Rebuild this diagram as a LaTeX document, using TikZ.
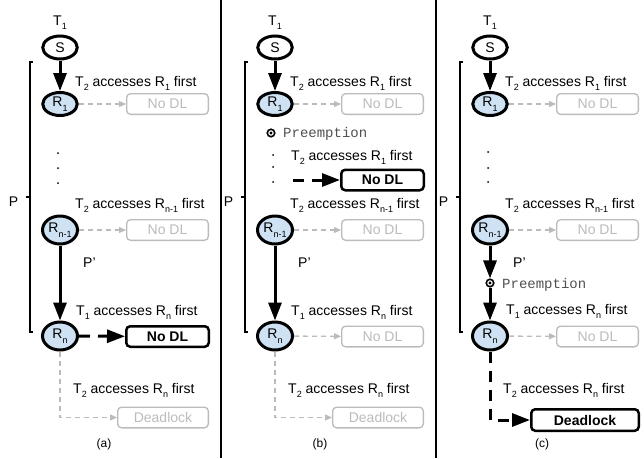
\documentclass[tikz,border=0pt]{standalone}
\usepackage{fontspec}
\setmainfont{Liberation Sans}
\newfontfamily\monofont{Liberation Mono}
\usetikzlibrary{shapes.geometric,arrows.meta}
\definecolor{nodeblue}{HTML}{CFE2F3}
\definecolor{ghost}{HTML}{BBBBBB}
\definecolor{pretext}{HTML}{505050}
\newcommand{\lsub}[1]{\raisebox{-0.33em}{\fontsize{9}{9}\selectfont #1}}
\begin{document}
\begin{tikzpicture}[x=1pt,y=-1pt,font=\fontsize{14}{16}\selectfont,
  lbl/.style={inner sep=0pt},
  res/.style={ellipse,draw,line width=3pt,inner sep=0pt,minimum width=34.5pt,minimum height=23pt},
  resbig/.style={res,minimum width=35pt,minimum height=28pt},
  ghostbox/.style={rectangle,rounded corners=4pt,draw=ghost,line width=1.3pt,text=ghost,
    minimum width=81.7pt,minimum height=20.7pt,inner sep=0pt},
  boldbox/.style={rectangle,rounded corners=4pt,draw,line width=2.5pt,
    font=\fontsize{14}{16}\selectfont\bfseries,minimum width=82.5pt,minimum height=20.5pt,inner sep=0pt},
  solidarr/.style={line width=3pt,-{Triangle[length=18pt,width=13pt]}},
  dasharr/.style={solidarr,dash pattern=on 11pt off 8pt},
  ghostarr/.style={draw=ghost,line width=1.3pt,dash pattern=on 5pt off 4pt,-{Triangle[length=7pt,width=6pt]}},
  bracket/.style={line width=1.4pt},
  divider/.style={line width=2pt},
  premark/.style={circle,draw,line width=1.6pt,minimum size=7.5pt,inner sep=0pt,fill=white},
  pretxt/.style={inner sep=0pt,text=pretext,font=\monofont\fontsize{14}{16}\selectfont},
  dot/.style={circle,fill,inner sep=0pt,minimum size=2pt},
  caption/.style={inner sep=0pt,font=\fontsize{12}{14}\selectfont}
]
\useasboundingbox (0,0) rectangle (644,458);

% dividers
\draw[divider] (220.5,0) -- (220.5,458);
\draw[divider] (435.5,0) -- (435.5,458);

% ================= panel (a) =================
\begin{scope}[name prefix=a-]
\node[lbl,anchor=base] (t1) at (60,25) {T\lsub{1}};
\node[res,fill=white] (s) at (60,47.5) {S};
\node[res,fill=nodeblue] (r1) at (60,104) {R\lsub{1}};
\node[resbig,fill=nodeblue] (rm) at (60,230) {R\lsub{n-1}};
\node[resbig,fill=nodeblue] (rn) at (60,336) {R\lsub{n}};
\node[ghostbox] (b1) at (167.5,104) {No DL};
\node[ghostbox] (bm) at (167.5,230) {No DL};
\node[boldbox] (bn) at (167.5,336.5) {No DL};
\node[ghostbox,minimum width=90.7pt] (dl) at (163,417.5) {Deadlock};
\node[lbl,anchor=base west] (l1) at (75,86) {T\lsub{2} accesses R\lsub{1} first};
\node[lbl,anchor=base west] (lm) at (75,208) {T\lsub{2} accesses R\lsub{n-1} first};
\node[lbl,anchor=base west] (ln) at (76,315) {T\lsub{1} accesses R\lsub{n} first};
\node[lbl,anchor=base west] (ld) at (73,393) {T\lsub{2} accesses R\lsub{n} first};
\node[lbl,anchor=base west] (pp) at (83,267) {P'};
\node[lbl] (p) at (13.5,202) {P};
\node[dot] (d1) at (58,153) {};
\node[dot] (d2) at (58,168) {};
\node[dot] (d3) at (58,183) {};
\draw[bracket] (33,62) -- (30,62) -- (30,332) -- (33,332);
\draw[bracket] (30,197) -- (26,197);
\draw[solidarr] (s) -- (r1);
\draw[solidarr] (rm) -- (rn);
\draw[ghostarr] (r1) -- (b1);
\draw[ghostarr] (rm) -- (bm);
\draw[dasharr] (rn) -- (bn);
\draw[ghostarr] (rn.south) |- (dl.west);
\node[caption] (cap) at (104,444) {(a)};
\end{scope}

% ================= panel (b) =================
\begin{scope}[xshift=215pt,name prefix=b-]
\node[lbl,anchor=base] (t1) at (60,25) {T\lsub{1}};
\node[res,fill=white] (s) at (60,47.5) {S};
\node[res,fill=nodeblue] (r1) at (60,104) {R\lsub{1}};
\node[resbig,fill=nodeblue] (rm) at (60,230) {R\lsub{n-1}};
\node[resbig,fill=nodeblue] (rn) at (60,336) {R\lsub{n}};
\node[ghostbox] (b1) at (167.5,104) {No DL};
\node[boldbox] (bp) at (167.5,180) {No DL};
\node[ghostbox] (bm) at (167.5,230) {No DL};
\node[ghostbox] (bn) at (167.5,336.5) {No DL};
\node[ghostbox,minimum width=90.7pt] (dl) at (163,417.5) {Deadlock};
\node[lbl,anchor=base west] (l1) at (75,86) {T\lsub{2} accesses R\lsub{1} first};
\node[premark] (pm) at (56,133) {};
\fill (pm.center) circle (1.6pt);
\node[pretxt,anchor=base west] (pt) at (68,137) {Preemption};
\node[lbl,anchor=base west] (l2) at (76,160) {T\lsub{2} accesses R\lsub{1} first};
\node[lbl,anchor=base west] (lm) at (75,208) {T\lsub{2} accesses R\lsub{n-1} first};
\node[lbl,anchor=base west] (ln) at (76,315) {T\lsub{1} accesses R\lsub{n} first};
\node[lbl,anchor=base west] (ld) at (73,393) {T\lsub{2} accesses R\lsub{n} first};
\node[lbl,anchor=base west] (pp) at (83,267) {P'};
\node[lbl] (p) at (13.5,202) {P};
\node[dot] (d1) at (58,155) {};
\node[dot] (d2) at (58,167) {};
\node[dot] (d3) at (58,182) {};
\coordinate (ds) at (78,180);
\draw[bracket] (33,62) -- (30,62) -- (30,332) -- (33,332);
\draw[bracket] (30,197) -- (26,197);
\draw[solidarr] (s) -- (r1);
\draw[solidarr] (rm) -- (rn);
\draw[ghostarr] (r1) -- (b1);
\draw[dasharr] (ds) -- (bp);
\draw[ghostarr] (rm) -- (bm);
\draw[ghostarr] (rn) -- (bn);
\draw[ghostarr] (rn.south) |- (dl.west);
\node[caption] (cap) at (105,444) {(b)};
\end{scope}

% ================= panel (c) =================
\begin{scope}[xshift=430pt,name prefix=c-]
\node[lbl,anchor=base] (t1) at (60,25) {T\lsub{1}};
\node[res,fill=white] (s) at (60,47.5) {S};
\node[res,fill=nodeblue] (r1) at (60,104) {R\lsub{1}};
\node[resbig,fill=nodeblue] (rm) at (60,230) {R\lsub{n-1}};
\node[resbig,fill=nodeblue] (rn) at (60,336) {R\lsub{n}};
\node[ghostbox] (b1) at (167.5,104) {No DL};
\node[ghostbox] (bm) at (167.5,230) {No DL};
\node[ghostbox] (bn) at (167.5,336.5) {No DL};
\node[boldbox,minimum width=107.5pt,minimum height=21.5pt] (dl) at (155,420) {Deadlock};
\node[lbl,anchor=base west] (l1) at (75,86) {T\lsub{2} accesses R\lsub{1} first};
\node[lbl,anchor=base west] (lm) at (75,208) {T\lsub{2} accesses R\lsub{n-1} first};
\node[lbl,anchor=base west] (ln) at (76,314) {T\lsub{1} accesses R\lsub{n} first};
\node[lbl,anchor=base west] (ld) at (73,393) {T\lsub{2} accesses R\lsub{n} first};
\node[lbl,anchor=base west] (pp) at (83,267) {P'};
\node[lbl] (p) at (13.5,202) {P};
\node[premark] (pm) at (60,283) {};
\fill (pm.center) circle (1.6pt);
\node[pretxt,anchor=base west] (pt) at (72,288) {Preemption};
\node[dot] (d1) at (58,152) {};
\node[dot] (d2) at (58,168) {};
\node[dot] (d3) at (58,182) {};
\draw[bracket] (33,62) -- (30,62) -- (30,332) -- (33,332);
\draw[bracket] (30,197) -- (26,197);
\draw[solidarr] (s) -- (r1);
\draw[solidarr] (rm) -- (pm);
\draw[solidarr] (pm) -- (rn);
\draw[ghostarr] (r1) -- (b1);
\draw[ghostarr] (rm) -- (bm);
\draw[ghostarr] (rn) -- (bn);
\draw[dasharr] (rn.south) |- (dl.west);
\node[caption] (cap) at (112,444) {(c)};
\end{scope}
\end{tikzpicture}
\end{document}
